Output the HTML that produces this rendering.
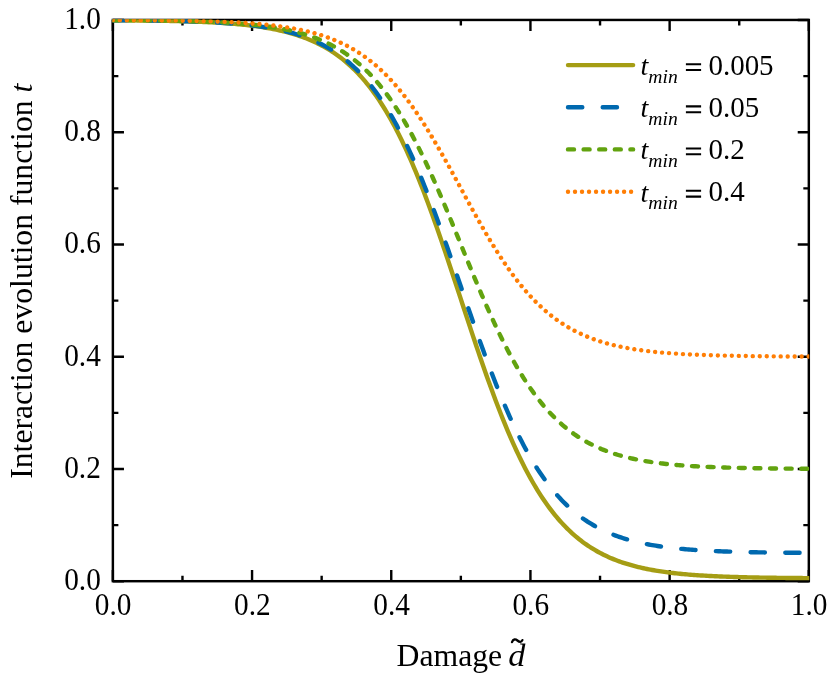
<!DOCTYPE html>
<html><head><meta charset="utf-8"><title>chart</title>
<style>
domain{display:none!important;position:absolute;width:0;height:0;overflow:hidden;font-size:0;}
html,body{margin:0;padding:0;background:#fff;}
body{width:830px;height:676px;overflow:hidden;}
svg{display:block;will-change:transform;}
text{font-family:"Liberation Serif",serif;fill:#000;}
.tk{font-size:29.3px;}
.lb{font-size:31.7px;}
.lg{font-size:28px;}
.lgn{font-size:29px;}
.sub{font-size:19.6px;font-style:italic;}
.it{font-style:italic;}
</style></head><body>
<svg width="830" height="676" viewBox="0 0 830 676">
<rect x="0" y="0" width="830" height="676" fill="#fff"/>

<g stroke="#000" fill="none" stroke-width="2.45">
<rect x="112.87" y="19.95" width="695.95" height="561.25"/>
<path stroke-width="2.4" d="M112.87 581.20V570.10M112.87 19.95V31.05M112.87 581.20H123.97M808.82 581.20H797.72M182.47 581.20V575.70M182.47 19.95V25.45M112.87 525.08H118.37M808.82 525.08H803.32M252.06 581.20V570.10M252.06 19.95V31.05M112.87 468.95H123.97M808.82 468.95H797.72M321.65 581.20V575.70M321.65 19.95V25.45M112.87 412.83H118.37M808.82 412.83H803.32M391.25 581.20V570.10M391.25 19.95V31.05M112.87 356.70H123.97M808.82 356.70H797.72M460.85 581.20V575.70M460.85 19.95V25.45M112.87 300.58H118.37M808.82 300.58H803.32M530.44 581.20V570.10M530.44 19.95V31.05M112.87 244.45H123.97M808.82 244.45H797.72M600.04 581.20V575.70M600.04 19.95V25.45M112.87 188.33H118.37M808.82 188.33H803.32M669.63 581.20V570.10M669.63 19.95V31.05M112.87 132.20H123.97M808.82 132.20H797.72M739.23 581.20V575.70M739.23 19.95V25.45M112.87 76.08H118.37M808.82 76.08H803.32M808.82 581.20V570.10M808.82 19.95V31.05M112.87 19.95H123.97M808.82 19.95H797.72"/>
</g>
<clipPath id="cp"><rect x="112.42" y="19.35" width="696.85" height="562.45"/></clipPath>
<g clip-path="url(#cp)" fill="none" stroke-linecap="round" stroke-linejoin="round" stroke-width="4.4">
<polyline stroke="#A59D14" points="112.87,20.23 114.61,20.24 116.35,20.25 118.09,20.26 119.83,20.28 121.57,20.29 123.31,20.30 125.05,20.31 126.79,20.33 128.53,20.34 130.27,20.36 132.01,20.37 133.75,20.39 135.49,20.41 137.23,20.43 138.97,20.44 140.71,20.46 142.45,20.48 144.19,20.50 145.93,20.52 147.67,20.55 149.41,20.57 151.15,20.59 152.89,20.62 154.63,20.64 156.37,20.67 158.11,20.70 159.85,20.73 161.59,20.76 163.33,20.79 165.07,20.82 166.81,20.86 168.55,20.89 170.29,20.93 172.03,20.97 173.77,21.00 175.51,21.05 177.25,21.09 178.99,21.13 180.73,21.18 182.47,21.22 184.20,21.27 185.94,21.33 187.68,21.38 189.42,21.43 191.16,21.49 192.90,21.55 194.64,21.61 196.38,21.68 198.12,21.74 199.86,21.81 201.60,21.88 203.34,21.96 205.08,22.04 206.82,22.12 208.56,22.20 210.30,22.29 212.04,22.38 213.78,22.47 215.52,22.57 217.26,22.67 219.00,22.77 220.74,22.88 222.48,23.00 224.22,23.11 225.96,23.23 227.70,23.36 229.44,23.49 231.18,23.63 232.92,23.77 234.66,23.92 236.40,24.07 238.14,24.23 239.88,24.39 241.62,24.56 243.36,24.74 245.10,24.92 246.84,25.11 248.58,25.31 250.32,25.52 252.06,25.73 253.80,25.95 255.54,26.18 257.28,26.42 259.02,26.67 260.76,26.93 262.50,27.19 264.24,27.47 265.98,27.76 267.72,28.06 269.46,28.36 271.20,28.69 272.94,29.02 274.68,29.36 276.42,29.72 278.16,30.09 279.90,30.48 281.64,30.88 283.38,31.29 285.12,31.72 286.86,32.17 288.60,32.63 290.34,33.11 292.08,33.61 293.82,34.12 295.56,34.66 297.30,35.21 299.04,35.79 300.78,36.38 302.52,37.00 304.26,37.64 306.00,38.30 307.74,38.99 309.48,39.70 311.22,40.44 312.96,41.20 314.70,41.99 316.44,42.81 318.18,43.66 319.92,44.53 321.65,45.44 323.39,46.38 325.13,47.36 326.87,48.37 328.61,49.41 330.35,50.49 332.09,51.60 333.83,52.76 335.57,53.95 337.31,55.18 339.05,56.46 340.79,57.78 342.53,59.14 344.27,60.55 346.01,62.00 347.75,63.50 349.49,65.05 351.23,66.65 352.97,68.31 354.71,70.01 356.45,71.77 358.19,73.58 359.93,75.45 361.67,77.38 363.41,79.37 365.15,81.42 366.89,83.53 368.63,85.70 370.37,87.94 372.11,90.24 373.85,92.61 375.59,95.04 377.33,97.55 379.07,100.12 380.81,102.77 382.55,105.48 384.29,108.27 386.03,111.13 387.77,114.07 389.51,117.08 391.25,120.17 392.99,123.33 394.73,126.57 396.47,129.89 398.21,133.28 399.95,136.75 401.69,140.30 403.43,143.93 405.17,147.63 406.91,151.41 408.65,155.27 410.39,159.21 412.13,163.22 413.87,167.30 415.61,171.46 417.35,175.69 419.09,179.99 420.83,184.37 422.57,188.81 424.31,193.32 426.05,197.90 427.79,202.53 429.53,207.23 431.27,211.99 433.01,216.81 434.75,221.68 436.49,226.60 438.23,231.57 439.97,236.59 441.71,241.65 443.45,246.75 445.19,251.88 446.93,257.05 448.67,262.25 450.41,267.48 452.15,272.73 453.89,277.99 455.63,283.27 457.37,288.57 459.11,293.87 460.85,299.17 462.58,304.48 464.32,309.78 466.06,315.07 467.80,320.35 469.54,325.62 471.28,330.87 473.02,336.09 474.76,341.29 476.50,346.46 478.24,351.59 479.98,356.69 481.72,361.75 483.46,366.77 485.20,371.74 486.94,376.66 488.68,381.53 490.42,386.35 492.16,391.11 493.90,395.81 495.64,400.45 497.38,405.02 499.12,409.53 500.86,413.98 502.60,418.35 504.34,422.65 506.08,426.88 507.82,431.04 509.56,435.13 511.30,439.14 513.04,443.07 514.78,446.93 516.52,450.71 518.26,454.41 520.00,458.04 521.74,461.59 523.48,465.06 525.22,468.46 526.96,471.77 528.70,475.01 530.44,478.17 532.18,481.26 533.92,484.27 535.66,487.21 537.40,490.07 539.14,492.86 540.88,495.58 542.62,498.22 544.36,500.80 546.10,503.30 547.84,505.74 549.58,508.10 551.32,510.41 553.06,512.64 554.80,514.81 556.54,516.92 558.28,518.97 560.02,520.96 561.76,522.89 563.50,524.76 565.24,526.57 566.98,528.33 568.72,530.04 570.46,531.69 572.20,533.29 573.94,534.84 575.68,536.34 577.42,537.80 579.16,539.20 580.90,540.57 582.64,541.89 584.38,543.16 586.12,544.39 587.86,545.59 589.60,546.74 591.34,547.86 593.08,548.94 594.82,549.98 596.56,550.99 598.30,551.96 600.04,552.90 601.77,553.81 603.51,554.69 605.25,555.53 606.99,556.35 608.73,557.14 610.47,557.91 612.21,558.64 613.95,559.36 615.69,560.04 617.43,560.70 619.17,561.34 620.91,561.96 622.65,562.56 624.39,563.13 626.13,563.68 627.87,564.22 629.61,564.73 631.35,565.23 633.09,565.71 634.83,566.17 636.57,566.62 638.31,567.05 640.05,567.47 641.79,567.86 643.53,568.25 645.27,568.62 647.01,568.98 648.75,569.33 650.49,569.66 652.23,569.98 653.97,570.29 655.71,570.59 657.45,570.87 659.19,571.15 660.93,571.42 662.67,571.67 664.41,571.92 666.15,572.16 667.89,572.39 669.63,572.61 671.37,572.83 673.11,573.03 674.85,573.23 676.59,573.42 678.33,573.60 680.07,573.78 681.81,573.95 683.55,574.12 685.29,574.27 687.03,574.43 688.77,574.57 690.51,574.72 692.25,574.85 693.99,574.98 695.73,575.11 697.47,575.23 699.21,575.35 700.95,575.46 702.69,575.57 704.43,575.67 706.17,575.78 707.91,575.87 709.65,575.97 711.39,576.06 713.13,576.14 714.87,576.23 716.61,576.31 718.35,576.38 720.09,576.46 721.83,576.53 723.57,576.60 725.31,576.67 727.05,576.73 728.79,576.79 730.53,576.85 732.27,576.91 734.01,576.97 735.75,577.02 737.49,577.07 739.23,577.12 740.96,577.17 742.70,577.21 744.44,577.26 746.18,577.30 747.92,577.34 749.66,577.38 751.40,577.42 753.14,577.45 754.88,577.49 756.62,577.52 758.36,577.55 760.10,577.59 761.84,577.62 763.58,577.64 765.32,577.67 767.06,577.70 768.80,577.72 770.54,577.75 772.28,577.77 774.02,577.80 775.76,577.82 777.50,577.84 779.24,577.86 780.98,577.88 782.72,577.90 784.46,577.92 786.20,577.94 787.94,577.95 789.68,577.97 791.42,577.99 793.16,578.00 794.90,578.02 796.64,578.03 798.38,578.04 800.12,578.06 801.86,578.07 803.60,578.08 805.34,578.09 807.08,578.10 808.82,578.11"/>
<polyline stroke="#0069AF" stroke-dasharray="14.3 20.414" points="112.87,20.22 114.61,20.23 116.35,20.24 118.09,20.25 119.83,20.26 121.57,20.27 123.31,20.28 125.05,20.30 126.79,20.31 128.53,20.33 130.27,20.34 132.01,20.35 133.75,20.37 135.49,20.39 137.23,20.40 138.97,20.42 140.71,20.44 142.45,20.46 144.19,20.48 145.93,20.50 147.67,20.52 149.41,20.54 151.15,20.56 152.89,20.59 154.63,20.61 156.37,20.64 158.11,20.67 159.85,20.69 161.59,20.72 163.33,20.75 165.07,20.78 166.81,20.82 168.55,20.85 170.29,20.88 172.03,20.92 173.77,20.96 175.51,21.00 177.25,21.04 178.99,21.08 180.73,21.12 182.47,21.17 184.20,21.21 185.94,21.26 187.68,21.31 189.42,21.37 191.16,21.42 192.90,21.48 194.64,21.54 196.38,21.60 198.12,21.66 199.86,21.73 201.60,21.80 203.34,21.87 205.08,21.94 206.82,22.02 208.56,22.10 210.30,22.18 212.04,22.27 213.78,22.36 215.52,22.45 217.26,22.55 219.00,22.65 220.74,22.75 222.48,22.86 224.22,22.97 225.96,23.09 227.70,23.21 229.44,23.33 231.18,23.46 232.92,23.60 234.66,23.74 236.40,23.88 238.14,24.03 239.88,24.19 241.62,24.35 243.36,24.52 245.10,24.70 246.84,24.88 248.58,25.07 250.32,25.27 252.06,25.47 253.80,25.68 255.54,25.90 257.28,26.13 259.02,26.37 260.76,26.61 262.50,26.87 264.24,27.13 265.98,27.40 267.72,27.69 269.46,27.98 271.20,28.29 272.94,28.61 274.68,28.94 276.42,29.28 278.16,29.63 279.90,30.00 281.64,30.38 283.38,30.78 285.12,31.19 286.86,31.62 288.60,32.06 290.34,32.52 292.08,32.99 293.82,33.48 295.56,33.99 297.30,34.52 299.04,35.07 300.78,35.64 302.52,36.23 304.26,36.84 306.00,37.47 307.74,38.13 309.48,38.81 311.22,39.51 312.96,40.24 314.70,40.99 316.44,41.78 318.18,42.58 319.92,43.42 321.65,44.29 323.39,45.19 325.13,46.12 326.87,47.08 328.61,48.08 330.35,49.11 332.09,50.17 333.83,51.27 335.57,52.41 337.31,53.59 339.05,54.81 340.79,56.07 342.53,57.37 344.27,58.71 346.01,60.10 347.75,61.53 349.49,63.01 351.23,64.54 352.97,66.12 354.71,67.75 356.45,69.43 358.19,71.16 359.93,72.94 361.67,74.79 363.41,76.68 365.15,78.64 366.89,80.65 368.63,82.73 370.37,84.86 372.11,87.06 373.85,89.32 375.59,91.65 377.33,94.04 379.07,96.50 380.81,99.02 382.55,101.61 384.29,104.28 386.03,107.01 387.77,109.81 389.51,112.69 391.25,115.64 392.99,118.66 394.73,121.75 396.47,124.92 398.21,128.16 399.95,131.47 401.69,134.86 403.43,138.32 405.17,141.86 406.91,145.47 408.65,149.15 410.39,152.91 412.13,156.74 413.87,160.64 415.61,164.61 417.35,168.65 419.09,172.76 420.83,176.93 422.57,181.17 424.31,185.48 426.05,189.85 427.79,194.28 429.53,198.76 431.27,203.31 433.01,207.91 434.75,212.56 436.49,217.26 438.23,222.00 439.97,226.79 441.71,231.62 443.45,236.49 445.19,241.40 446.93,246.33 448.67,251.29 450.41,256.28 452.15,261.29 453.89,266.32 455.63,271.36 457.37,276.42 459.11,281.48 460.85,286.54 462.58,291.61 464.32,296.67 466.06,301.72 467.80,306.77 469.54,311.79 471.28,316.80 473.02,321.79 474.76,326.76 476.50,331.69 478.24,336.60 479.98,341.46 481.72,346.30 483.46,351.09 485.20,355.83 486.94,360.53 488.68,365.18 490.42,369.78 492.16,374.32 493.90,378.81 495.64,383.24 497.38,387.61 499.12,391.91 500.86,396.16 502.60,400.33 504.34,404.44 506.08,408.48 507.82,412.45 509.56,416.35 511.30,420.18 513.04,423.94 514.78,427.62 516.52,431.23 518.26,434.77 520.00,438.23 521.74,441.62 523.48,444.93 525.22,448.17 526.96,451.34 528.70,454.43 530.44,457.45 532.18,460.40 533.92,463.27 535.66,466.08 537.40,468.81 539.14,471.47 540.88,474.07 542.62,476.59 544.36,479.05 546.10,481.44 547.84,483.77 549.58,486.03 551.32,488.22 553.06,490.36 554.80,492.43 556.54,494.45 558.28,496.40 560.02,498.30 561.76,500.14 563.50,501.93 565.24,503.66 566.98,505.34 568.72,506.97 570.46,508.55 572.20,510.07 573.94,511.56 575.68,512.99 577.42,514.38 579.16,515.72 580.90,517.02 582.64,518.28 584.38,519.50 586.12,520.68 587.86,521.82 589.60,522.92 591.34,523.98 593.08,525.01 594.82,526.01 596.56,526.97 598.30,527.90 600.04,528.80 601.77,529.66 603.51,530.50 605.25,531.31 606.99,532.09 608.73,532.85 610.47,533.58 612.21,534.28 613.95,534.96 615.69,535.62 617.43,536.25 619.17,536.86 620.91,537.45 622.65,538.02 624.39,538.56 626.13,539.09 627.87,539.60 629.61,540.10 631.35,540.57 633.09,541.03 634.83,541.47 636.57,541.90 638.31,542.31 640.05,542.70 641.79,543.08 643.53,543.45 645.27,543.81 647.01,544.15 648.75,544.48 650.49,544.80 652.23,545.10 653.97,545.40 655.71,545.68 657.45,545.96 659.19,546.22 660.93,546.48 662.67,546.72 664.41,546.96 666.15,547.19 667.89,547.41 669.63,547.62 671.37,547.82 673.11,548.02 674.85,548.21 676.59,548.39 678.33,548.56 680.07,548.73 681.81,548.90 683.55,549.05 685.29,549.20 687.03,549.35 688.77,549.49 690.51,549.63 692.25,549.76 693.99,549.88 695.73,550.00 697.47,550.12 699.21,550.23 700.95,550.34 702.69,550.44 704.43,550.54 706.17,550.64 707.91,550.73 709.65,550.82 711.39,550.91 713.13,550.99 714.87,551.07 716.61,551.15 718.35,551.22 720.09,551.29 721.83,551.36 723.57,551.43 725.31,551.49 727.05,551.55 728.79,551.61 730.53,551.67 732.27,551.72 734.01,551.77 735.75,551.82 737.49,551.87 739.23,551.92 740.96,551.97 742.70,552.01 744.44,552.05 746.18,552.09 747.92,552.13 749.66,552.17 751.40,552.20 753.14,552.24 754.88,552.27 756.62,552.30 758.36,552.34 760.10,552.37 761.84,552.39 763.58,552.42 765.32,552.45 767.06,552.47 768.80,552.50 770.54,552.52 772.28,552.55 774.02,552.57 775.76,552.59 777.50,552.61 779.24,552.63 780.98,552.65 782.72,552.67 784.46,552.68 786.20,552.70 787.94,552.72 789.68,552.73 791.42,552.75 793.16,552.76 794.90,552.78 796.64,552.79 798.38,552.80 800.12,552.82 801.86,552.83 803.60,552.84 805.34,552.85 807.08,552.86 808.82,552.87"/>
<polyline stroke="#62A30F" stroke-dasharray="6 9.613" points="112.87,20.17 114.61,20.18 116.35,20.19 118.09,20.20 119.83,20.21 121.57,20.22 123.31,20.23 125.05,20.24 126.79,20.25 128.53,20.27 130.27,20.28 132.01,20.29 133.75,20.30 135.49,20.32 137.23,20.33 138.97,20.35 140.71,20.36 142.45,20.38 144.19,20.39 145.93,20.41 147.67,20.43 149.41,20.45 151.15,20.47 152.89,20.49 154.63,20.51 156.37,20.53 158.11,20.55 159.85,20.58 161.59,20.60 163.33,20.63 165.07,20.65 166.81,20.68 168.55,20.71 170.29,20.74 172.03,20.77 173.77,20.80 175.51,20.83 177.25,20.86 178.99,20.90 180.73,20.94 182.47,20.98 184.20,21.01 185.94,21.06 187.68,21.10 189.42,21.14 191.16,21.19 192.90,21.24 194.64,21.29 196.38,21.34 198.12,21.39 199.86,21.45 201.60,21.51 203.34,21.57 205.08,21.63 206.82,21.69 208.56,21.76 210.30,21.83 212.04,21.90 213.78,21.98 215.52,22.06 217.26,22.14 219.00,22.22 220.74,22.31 222.48,22.40 224.22,22.49 225.96,22.59 227.70,22.69 229.44,22.80 231.18,22.91 232.92,23.02 234.66,23.14 236.40,23.26 238.14,23.39 239.88,23.52 241.62,23.66 243.36,23.80 245.10,23.95 246.84,24.10 248.58,24.26 250.32,24.43 252.06,24.60 253.80,24.78 255.54,24.96 257.28,25.15 259.02,25.35 260.76,25.56 262.50,25.77 264.24,26.00 265.98,26.23 267.72,26.47 269.46,26.72 271.20,26.97 272.94,27.24 274.68,27.52 276.42,27.81 278.16,28.11 279.90,28.42 281.64,28.74 283.38,29.07 285.12,29.42 286.86,29.77 288.60,30.15 290.34,30.53 292.08,30.93 293.82,31.35 295.56,31.78 297.30,32.22 299.04,32.68 300.78,33.16 302.52,33.66 304.26,34.17 306.00,34.71 307.74,35.26 309.48,35.83 311.22,36.42 312.96,37.04 314.70,37.67 316.44,38.33 318.18,39.01 319.92,39.72 321.65,40.45 323.39,41.20 325.13,41.99 326.87,42.80 328.61,43.63 330.35,44.50 332.09,45.40 333.83,46.33 335.57,47.29 337.31,48.28 339.05,49.30 340.79,50.36 342.53,51.46 344.27,52.59 346.01,53.76 347.75,54.97 349.49,56.21 351.23,57.50 352.97,58.83 354.71,60.20 356.45,61.61 358.19,63.07 359.93,64.58 361.67,66.13 363.41,67.73 365.15,69.37 366.89,71.07 368.63,72.82 370.37,74.61 372.11,76.46 373.85,78.37 375.59,80.33 377.33,82.34 379.07,84.41 380.81,86.54 382.55,88.72 384.29,90.96 386.03,93.26 387.77,95.63 389.51,98.05 391.25,100.53 392.99,103.07 394.73,105.68 396.47,108.34 398.21,111.07 399.95,113.86 401.69,116.72 403.43,119.63 405.17,122.61 406.91,125.65 408.65,128.75 410.39,131.92 412.13,135.14 413.87,138.42 415.61,141.77 417.35,145.17 419.09,148.63 420.83,152.15 422.57,155.72 424.31,159.34 426.05,163.02 427.79,166.75 429.53,170.53 431.27,174.36 433.01,178.23 434.75,182.15 436.49,186.10 438.23,190.10 439.97,194.13 441.71,198.20 443.45,202.30 445.19,206.43 446.93,210.59 448.67,214.77 450.41,218.97 452.15,223.19 453.89,227.42 455.63,231.67 457.37,235.92 459.11,240.19 460.85,244.45 462.58,248.71 464.32,252.98 466.06,257.23 467.80,261.48 469.54,265.71 471.28,269.93 473.02,274.13 474.76,278.31 476.50,282.47 478.24,286.60 479.98,290.70 481.72,294.77 483.46,298.80 485.20,302.80 486.94,306.75 488.68,310.67 490.42,314.54 492.16,318.37 493.90,322.15 495.64,325.88 497.38,329.56 499.12,333.18 500.86,336.75 502.60,340.27 504.34,343.73 506.08,347.13 507.82,350.48 509.56,353.76 511.30,356.98 513.04,360.15 514.78,363.25 516.52,366.29 518.26,369.27 520.00,372.18 521.74,375.04 523.48,377.83 525.22,380.56 526.96,383.22 528.70,385.83 530.44,388.37 532.18,390.85 533.92,393.27 535.66,395.64 537.40,397.94 539.14,400.18 540.88,402.36 542.62,404.49 544.36,406.56 546.10,408.57 547.84,410.53 549.58,412.44 551.32,414.29 553.06,416.08 554.80,417.83 556.54,419.53 558.28,421.17 560.02,422.77 561.76,424.32 563.50,425.83 565.24,427.29 566.98,428.70 568.72,430.07 570.46,431.40 572.20,432.69 573.94,433.93 575.68,435.14 577.42,436.31 579.16,437.44 580.90,438.54 582.64,439.60 584.38,440.62 586.12,441.61 587.86,442.57 589.60,443.50 591.34,444.40 593.08,445.27 594.82,446.10 596.56,446.91 598.30,447.70 600.04,448.45 601.77,449.18 603.51,449.89 605.25,450.57 606.99,451.23 608.73,451.86 610.47,452.48 612.21,453.07 613.95,453.64 615.69,454.19 617.43,454.73 619.17,455.24 620.91,455.74 622.65,456.22 624.39,456.68 626.13,457.12 627.87,457.55 629.61,457.97 631.35,458.37 633.09,458.75 634.83,459.13 636.57,459.48 638.31,459.83 640.05,460.16 641.79,460.48 643.53,460.79 645.27,461.09 647.01,461.38 648.75,461.66 650.49,461.93 652.23,462.18 653.97,462.43 655.71,462.67 657.45,462.90 659.19,463.13 660.93,463.34 662.67,463.55 664.41,463.75 666.15,463.94 667.89,464.12 669.63,464.30 671.37,464.47 673.11,464.64 674.85,464.80 676.59,464.95 678.33,465.10 680.07,465.24 681.81,465.38 683.55,465.51 685.29,465.64 687.03,465.76 688.77,465.88 690.51,465.99 692.25,466.10 693.99,466.21 695.73,466.31 697.47,466.41 699.21,466.50 700.95,466.59 702.69,466.68 704.43,466.76 706.17,466.84 707.91,466.92 709.65,467.00 711.39,467.07 713.13,467.14 714.87,467.21 716.61,467.27 718.35,467.33 720.09,467.39 721.83,467.45 723.57,467.51 725.31,467.56 727.05,467.61 728.79,467.66 730.53,467.71 732.27,467.76 734.01,467.80 735.75,467.84 737.49,467.89 739.23,467.92 740.96,467.96 742.70,468.00 744.44,468.04 746.18,468.07 747.92,468.10 749.66,468.13 751.40,468.16 753.14,468.19 754.88,468.22 756.62,468.25 758.36,468.27 760.10,468.30 761.84,468.32 763.58,468.35 765.32,468.37 767.06,468.39 768.80,468.41 770.54,468.43 772.28,468.45 774.02,468.47 775.76,468.49 777.50,468.51 779.24,468.52 780.98,468.54 782.72,468.55 784.46,468.57 786.20,468.58 787.94,468.60 789.68,468.61 791.42,468.62 793.16,468.63 794.90,468.65 796.64,468.66 798.38,468.67 800.12,468.68 801.86,468.69 803.60,468.70 805.34,468.71 807.08,468.72 808.82,468.73"/>
<polyline stroke="#FF7E05" stroke-dasharray="0.01 6.975" points="112.87,20.12 114.61,20.12 116.35,20.13 118.09,20.14 119.83,20.15 121.57,20.15 123.31,20.16 125.05,20.17 126.79,20.18 128.53,20.19 130.27,20.20 132.01,20.21 133.75,20.22 135.49,20.23 137.23,20.24 138.97,20.25 140.71,20.26 142.45,20.27 144.19,20.28 145.93,20.30 147.67,20.31 149.41,20.32 151.15,20.34 152.89,20.35 154.63,20.37 156.37,20.39 158.11,20.40 159.85,20.42 161.59,20.44 163.33,20.46 165.07,20.48 166.81,20.50 168.55,20.52 170.29,20.54 172.03,20.56 173.77,20.59 175.51,20.61 177.25,20.64 178.99,20.66 180.73,20.69 182.47,20.72 184.20,20.75 185.94,20.78 187.68,20.81 189.42,20.84 191.16,20.88 192.90,20.92 194.64,20.95 196.38,20.99 198.12,21.03 199.86,21.07 201.60,21.12 203.34,21.16 205.08,21.21 206.82,21.26 208.56,21.31 210.30,21.36 212.04,21.41 213.78,21.47 215.52,21.53 217.26,21.59 219.00,21.65 220.74,21.72 222.48,21.79 224.22,21.86 225.96,21.93 227.70,22.01 229.44,22.09 231.18,22.17 232.92,22.25 234.66,22.34 236.40,22.43 238.14,22.53 239.88,22.63 241.62,22.73 243.36,22.84 245.10,22.95 246.84,23.06 248.58,23.18 250.32,23.31 252.06,23.44 253.80,23.57 255.54,23.71 257.28,23.85 259.02,24.00 260.76,24.16 262.50,24.32 264.24,24.48 265.98,24.66 267.72,24.84 269.46,25.02 271.20,25.22 272.94,25.42 274.68,25.63 276.42,25.84 278.16,26.07 279.90,26.30 281.64,26.54 283.38,26.79 285.12,27.05 286.86,27.32 288.60,27.60 290.34,27.89 292.08,28.19 293.82,28.50 295.56,28.82 297.30,29.15 299.04,29.50 300.78,29.86 302.52,30.23 304.26,30.62 306.00,31.02 307.74,31.43 309.48,31.86 311.22,32.30 312.96,32.76 314.70,33.24 316.44,33.73 318.18,34.25 319.92,34.78 321.65,35.32 323.39,35.89 325.13,36.48 326.87,37.08 328.61,37.71 330.35,38.36 332.09,39.04 333.83,39.73 335.57,40.45 337.31,41.20 339.05,41.97 340.79,42.76 342.53,43.58 344.27,44.43 346.01,45.31 347.75,46.21 349.49,47.15 351.23,48.11 352.97,49.11 354.71,50.14 356.45,51.20 358.19,52.29 359.93,53.42 361.67,54.58 363.41,55.78 365.15,57.02 366.89,58.29 368.63,59.60 370.37,60.95 372.11,62.34 373.85,63.76 375.59,65.23 377.33,66.74 379.07,68.30 380.81,69.89 382.55,71.53 384.29,73.21 386.03,74.94 387.77,76.71 389.51,78.52 391.25,80.38 392.99,82.29 394.73,84.24 396.47,86.24 398.21,88.29 399.95,90.38 401.69,92.52 403.43,94.71 405.17,96.94 406.91,99.22 408.65,101.55 410.39,103.92 412.13,106.34 413.87,108.80 415.61,111.31 417.35,113.86 419.09,116.46 420.83,119.10 422.57,121.78 424.31,124.50 426.05,127.25 427.79,130.05 429.53,132.89 431.27,135.76 433.01,138.66 434.75,141.60 436.49,144.56 438.23,147.56 439.97,150.59 441.71,153.64 443.45,156.71 445.19,159.81 446.93,162.93 448.67,166.06 450.41,169.21 452.15,172.38 453.89,175.55 455.63,178.74 457.37,181.93 459.11,185.13 460.85,188.33 462.58,191.52 464.32,194.72 466.06,197.91 467.80,201.10 469.54,204.27 471.28,207.44 473.02,210.59 474.76,213.72 476.50,216.84 478.24,219.94 479.98,223.01 481.72,226.06 483.46,229.09 485.20,232.09 486.94,235.05 488.68,237.99 490.42,240.89 492.16,243.76 493.90,246.60 495.64,249.40 497.38,252.15 499.12,254.87 500.86,257.55 502.60,260.19 504.34,262.79 506.08,265.34 507.82,267.85 509.56,270.31 511.30,272.73 513.04,275.10 514.78,277.43 516.52,279.71 518.26,281.94 520.00,284.13 521.74,286.27 523.48,288.36 525.22,290.41 526.96,292.41 528.70,294.36 530.44,296.27 532.18,298.13 533.92,299.94 535.66,301.71 537.40,303.44 539.14,305.12 540.88,306.76 542.62,308.35 544.36,309.91 546.10,311.42 547.84,312.89 549.58,314.31 551.32,315.70 553.06,317.05 554.80,318.36 556.54,319.63 558.28,320.87 560.02,322.07 561.76,323.23 563.50,324.36 565.24,325.45 566.98,326.51 568.72,327.54 570.46,328.54 572.20,329.50 573.94,330.44 575.68,331.34 577.42,332.22 579.16,333.07 580.90,333.89 582.64,334.68 584.38,335.45 586.12,336.20 587.86,336.92 589.60,337.61 591.34,338.29 593.08,338.94 594.82,339.57 596.56,340.17 598.30,340.76 600.04,341.33 601.77,341.87 603.51,342.40 605.25,342.92 606.99,343.41 608.73,343.89 610.47,344.35 612.21,344.79 613.95,345.22 615.69,345.63 617.43,346.03 619.17,346.42 620.91,346.79 622.65,347.15 624.39,347.50 626.13,347.83 627.87,348.15 629.61,348.46 631.35,348.76 633.09,349.05 634.83,349.33 636.57,349.60 638.31,349.86 640.05,350.11 641.79,350.35 643.53,350.58 645.27,350.81 647.01,351.02 648.75,351.23 650.49,351.43 652.23,351.63 653.97,351.81 655.71,351.99 657.45,352.17 659.19,352.33 660.93,352.49 662.67,352.65 664.41,352.80 666.15,352.94 667.89,353.08 669.63,353.21 671.37,353.34 673.11,353.47 674.85,353.59 676.59,353.70 678.33,353.81 680.07,353.92 681.81,354.02 683.55,354.12 685.29,354.22 687.03,354.31 688.77,354.40 690.51,354.48 692.25,354.56 693.99,354.64 695.73,354.72 697.47,354.79 699.21,354.86 700.95,354.93 702.69,355.00 704.43,355.06 706.17,355.12 707.91,355.18 709.65,355.24 711.39,355.29 713.13,355.34 714.87,355.39 716.61,355.44 718.35,355.49 720.09,355.53 721.83,355.58 723.57,355.62 725.31,355.66 727.05,355.70 728.79,355.73 730.53,355.77 732.27,355.81 734.01,355.84 735.75,355.87 737.49,355.90 739.23,355.93 740.96,355.96 742.70,355.99 744.44,356.01 746.18,356.04 747.92,356.06 749.66,356.09 751.40,356.11 753.14,356.13 754.88,356.15 756.62,356.17 758.36,356.19 760.10,356.21 761.84,356.23 763.58,356.25 765.32,356.26 767.06,356.28 768.80,356.30 770.54,356.31 772.28,356.33 774.02,356.34 775.76,356.35 777.50,356.37 779.24,356.38 780.98,356.39 782.72,356.40 784.46,356.41 786.20,356.42 787.94,356.43 789.68,356.44 791.42,356.45 793.16,356.46 794.90,356.47 796.64,356.48 798.38,356.49 800.12,356.50 801.86,356.50 803.60,356.51 805.34,356.52 807.08,356.53 808.82,356.53"/>
</g>
<text class="tk" transform="translate(113.17 615.3) scale(1 1.05)" text-anchor="middle">0.0</text>
<text class="tk" transform="translate(100.8 590.00) scale(1 1.05)" text-anchor="end">0.0</text>
<text class="tk" transform="translate(252.36 615.3) scale(1 1.05)" text-anchor="middle">0.2</text>
<text class="tk" transform="translate(100.8 477.75) scale(1 1.05)" text-anchor="end">0.2</text>
<text class="tk" transform="translate(391.55 615.3) scale(1 1.05)" text-anchor="middle">0.4</text>
<text class="tk" transform="translate(100.8 365.50) scale(1 1.05)" text-anchor="end">0.4</text>
<text class="tk" transform="translate(530.74 615.3) scale(1 1.05)" text-anchor="middle">0.6</text>
<text class="tk" transform="translate(100.8 253.25) scale(1 1.05)" text-anchor="end">0.6</text>
<text class="tk" transform="translate(669.93 615.3) scale(1 1.05)" text-anchor="middle">0.8</text>
<text class="tk" transform="translate(100.8 141.00) scale(1 1.05)" text-anchor="end">0.8</text>
<text class="tk" transform="translate(809.12 615.3) scale(1 1.05)" text-anchor="middle">1.0</text>
<text class="tk" transform="translate(100.8 28.75) scale(1 1.05)" text-anchor="end">1.0</text>
<text class="lb" x="396.6" y="665.9">Damage</text>
<text class="lb it" transform="translate(508.2 665.9) scale(1.08 1.01)">d</text>
<path d="M512 642.1C513.2 638.8 515.6 639 517.4 640.5C519.4 642.2 521.4 642.4 522.4 640.1" fill="none" stroke="#000" stroke-width="2.3" stroke-linecap="round"/>
<text class="lb" transform="translate(32 478.8) rotate(-90)">Interaction evolution function <tspan class="it">t</tspan></text>
<line x1="568" y1="65.10" x2="633.1" y2="65.10" stroke="#A59D14" stroke-width="4.4" stroke-linecap="round"/>
<text class="lg it" x="640.4" y="74.90">t</text>
<text class="sub" x="648.3" y="82.70">min</text>
<path d="M685.9 64.20H701.1M685.9 70.00H701.1" stroke="#000" stroke-width="2.1" fill="none"/>
<text class="lgn" transform="translate(708.4 74.60) scale(1 1.015)">0.005</text>
<line x1="568" y1="107.30" x2="633.1" y2="107.30" stroke="#0069AF" stroke-width="4.4" stroke-linecap="round" stroke-dasharray="14.3 20.4"/>
<text class="lg it" x="640.4" y="117.10">t</text>
<text class="sub" x="648.3" y="124.90">min</text>
<path d="M685.9 106.40H701.1M685.9 112.20H701.1" stroke="#000" stroke-width="2.1" fill="none"/>
<text class="lgn" transform="translate(708.4 116.80) scale(1 1.015)">0.05</text>
<line x1="568" y1="149.40" x2="633.1" y2="149.40" stroke="#62A30F" stroke-width="4.4" stroke-linecap="round" stroke-dasharray="6 9.6"/>
<text class="lg it" x="640.4" y="159.20">t</text>
<text class="sub" x="648.3" y="167.00">min</text>
<path d="M685.9 148.50H701.1M685.9 154.30H701.1" stroke="#000" stroke-width="2.1" fill="none"/>
<text class="lgn" transform="translate(708.4 158.90) scale(1 1.015)">0.2</text>
<line x1="568" y1="191.70" x2="633.1" y2="191.70" stroke="#FF7E05" stroke-width="4.4" stroke-linecap="round" stroke-dasharray="0.01 7"/>
<text class="lg it" x="640.4" y="201.50">t</text>
<text class="sub" x="648.3" y="209.30">min</text>
<path d="M685.9 190.80H701.1M685.9 196.60H701.1" stroke="#000" stroke-width="2.1" fill="none"/>
<text class="lgn" transform="translate(708.4 201.20) scale(1 1.015)">0.4</text>
</svg></body></html>
